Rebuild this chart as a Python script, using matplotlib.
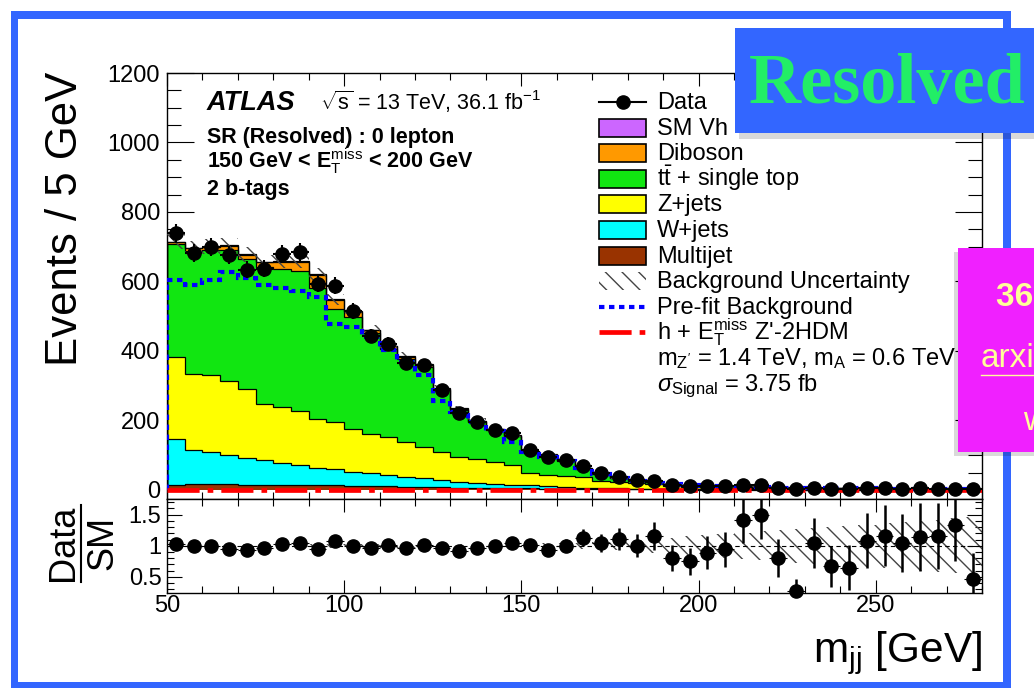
import numpy as np
import matplotlib
matplotlib.use('Agg')
import matplotlib.pyplot as plt
from matplotlib.patches import Rectangle
from matplotlib.ticker import MultipleLocator, FuncFormatter

plt.rcParams['font.family'] = ['Liberation Sans', 'DejaVu Sans']
plt.rcParams['mathtext.fontset'] = 'custom'
plt.rcParams['mathtext.rm'] = 'Liberation Sans'
plt.rcParams['mathtext.it'] = 'Liberation Sans:italic'
plt.rcParams['mathtext.bf'] = 'Liberation Sans:bold'
plt.rcParams['hatch.linewidth'] = 1.0

# m_jj bins, 5 GeV wide from 50 to 280 GeV
bin_lo, bin_width, n_bins = 50, 5, 46

data_counts = [739, 682, 699, 675, 634, 637, 680, 685, 593, 588,
               514, 443, 421, 366, 359, 289, 221, 197, 173, 163,
               115, 96, 86, 70, 50, 38, 28, 25, 14, 11,
               12, 10, 14, 13, 6, 2, 7, 4, 4, 5,
               5, 4, 5, 4, 4, 2]

multijet = [15, 16, 17, 16, 15, 15, 14, 14, 13, 15, 12, 11, 10, 9, 8, 8, 7, 6, 6, 5,
            5, 4, 4, 3, 3, 2, 2, 2, 1, 1, 0.8, 0.8, 0.7, 0.7, 0.6, 0.6, 0.5, 0.5, 0.5, 0.5,
            0.4, 0.4, 0.4, 0.4, 0.3, 0.3]
wjets = [132, 99, 93, 84, 77, 71, 64, 58, 51, 45, 41, 37, 32, 29, 25, 20, 17, 14, 12, 9,
         9, 6, 4, 4, 3, 3, 2, 1.5, 1.5, 1.2, 1.1, 1, 0.9, 0.9, 0.8, 0.8, 0.7, 0.7, 0.6, 0.6,
         0.6, 0.5, 0.5, 0.5, 0.5, 0.4]
zjets = [236, 220, 220, 215, 199, 162, 160, 156, 140, 135, 122, 113, 109, 99, 92, 82, 71, 68, 62, 58,
         34, 34, 32, 29, 19, 17, 15, 13, 8, 7, 6, 5, 4.6, 4.2, 3.8, 3.4, 3.2, 3, 2.7, 2.5,
         2.2, 2.1, 2, 1.8, 1.7, 1.6]
ttbar = [326, 354, 360, 376, 374, 394, 399, 401, 377, 327, 323, 290, 256, 241, 230, 179, 135, 108, 93, 82,
         62, 56, 44, 25, 22, 12, 8, 5, 6.5, 5, 4.4, 3.6, 3.3, 2.7, 2.4, 1.8, 1.7, 1.5, 1.4, 1.1,
         1.0, 0.9, 0.8, 0.7, 0.6, 0.6]
diboson = [5, 6, 10, 12, 12, 14, 20, 28, 38, 25, 14, 8, 6, 5, 4, 3, 3, 2, 2, 2,
           2, 1.5, 1.5, 1.5, 1, 1, 1, 1, 1, 0.8, 0.7, 0.6, 0.5, 0.5, 0.4, 0.4, 0.4, 0.3, 0.3, 0.3,
           0.3, 0.3, 0.3, 0.3, 0.3, 0.3]
sm_vh = [0.5, 0.5, 0.5, 0.6, 0.7, 0.8, 1, 1.2, 1.4, 1.6, 1.8, 2.0, 2.3, 2.5, 2.6, 2.5, 2.2, 1.8, 1.4, 1.1,
         0.9, 0.7, 0.6, 0.5, 0.4, 0.3, 0.3, 0.2, 0.1, 0.1, 0.1, 0.1, 0.1, 0.1, 0.1, 0.1, 0.1, 0.1, 0.1, 0.1,
         0.1, 0.1, 0.1, 0.1, 0.1, 0.1]
prefit_bkg = [604, 590, 604, 628, 609, 590, 580, 573, 556, 479, 469, 441, 402, 368, 330, 257, 225, 195, 171, 137,
              108, 95, 84, 64, 45, 34, 26, 21, 16, 14, 12, 10, 9, 8, 7, 6.5, 6, 5.5, 5, 4.6,
              4.2, 4, 3.7, 3.4, 3.2, 3]
signal = [0.4, 0.4, 0.4, 0.5, 0.5, 0.5, 0.6, 0.6, 0.7, 0.7, 0.8, 0.8, 0.9, 0.9, 0.9, 0.9, 0.8, 0.8, 0.7, 0.7,
          0.6, 0.6, 0.5, 0.5, 0.4, 0.4, 0.4, 0.3, 0.3, 0.3, 0.3, 0.3, 0.2, 0.2, 0.2, 0.2, 0.2, 0.2, 0.2, 0.2,
          0.1, 0.1, 0.1, 0.1, 0.1, 0.1]
ratio = [1.03, 0.99, 0.99, 0.95, 0.93, 0.97, 1.03, 1.04, 0.95, 1.07,
         0.99, 0.97, 1.01, 0.96, 1.01, 0.97, 0.92, 0.97, 0.99, 1.04,
         1.02, 0.93, 1.0, 1.13, 1.04, 1.11, 1.0, 1.16, 0.80, 0.75,
         0.89, 0.94, 1.41, 1.50, 0.80, 0.27, 1.05, 0.67, 0.65, 1.08,
         1.16, 1.04, 1.14, 1.16, 1.33, 0.46]
bkg_rel_unc = [0.03, 0.03, 0.03, 0.03, 0.03, 0.03, 0.03, 0.03, 0.03, 0.03,
               0.03, 0.03, 0.03, 0.03, 0.03, 0.03, 0.03, 0.03, 0.03, 0.03,
               0.035, 0.04, 0.045, 0.05, 0.06, 0.07, 0.09, 0.11, 0.13, 0.15,
               0.17, 0.19, 0.21, 0.23, 0.25, 0.27, 0.29, 0.30, 0.32, 0.34,
               0.36, 0.38, 0.40, 0.42, 0.44, 0.46]

edges = bin_lo + bin_width * np.arange(n_bins + 1)
centers = 0.5 * (edges[:-1] + edges[1:])

stack = [('Multijet', multijet, '#993300'),
         ('W+jets', wjets, '#00ffff'),
         ('Z+jets', zjets, '#ffff00'),
         (r'$\mathrm{t\bar{t}}$ + single top', ttbar, '#11e611'),
         ('Diboson', diboson, '#ff9900'),
         ('SM Vh', sm_vh, '#cc66ff')]

W, H = 1034, 688
fig = plt.figure(figsize=(W / 100, H / 100), dpi=100)
fig.patch.set_facecolor('white')


def px_rect(x0, y0, x1, y1):
    return [x0 / W, 1 - y1 / H, (x1 - x0) / W, (y1 - y0) / H]


ax = fig.add_axes(px_rect(167, 73, 982, 499))
rax = fig.add_axes(px_rect(167, 499, 982, 592.5))

# ---- main panel: stacked backgrounds
base = np.zeros(n_bins)
for name, vals, col in stack:
    top = base + np.array(vals)
    ax.stairs(top, edges, baseline=base, fill=True, color=col, lw=0, zorder=2)
    ax.stairs(top, edges, color='k', lw=0.9, zorder=3)
    base = top
total = base
unc = np.array(bkg_rel_unc)
data = np.array(data_counts, dtype=float)

ax.bar(centers, 2 * unc * total, bottom=total * (1 - unc), width=bin_width, fill=False,
       hatch='\\\\', edgecolor='#444444', lw=0, zorder=4)
ax.stairs(prefit_bkg, edges, color='#0000ff', lw=3, linestyle=(0, (1.3, 1.1)), zorder=5)
ax.stairs(signal, edges, color='#ff0000', lw=3.4, linestyle=(0, (6.8, 1.7, 1.2, 1.7)), zorder=5)
ax.errorbar(centers, data, yerr=np.sqrt(data), xerr=bin_width / 2, fmt='o', color='k',
            ms=9.5, elinewidth=1.5, capsize=0, zorder=6)

ax.set_xlim(50, 280)
ax.set_ylim(-26, 1200)
ax.xaxis.set_major_locator(MultipleLocator(50))
ax.xaxis.set_minor_locator(MultipleLocator(10))
ax.yaxis.set_major_locator(MultipleLocator(200))
ax.yaxis.set_minor_locator(MultipleLocator(50))
ax.tick_params(which='both', direction='in', top=True, right=True, labelbottom=False, width=0.8)
ax.tick_params(axis='y', which='major', length=19.5, labelsize=17, pad=5)
ax.tick_params(axis='y', which='minor', length=10)
ax.tick_params(axis='x', which='major', length=9)
ax.tick_params(axis='x', which='minor', length=4.7)

# ---- ratio panel
rax.bar(centers, 2 * unc, bottom=1 - unc, width=bin_width, fill=False,
        hatch='\\\\', edgecolor='#444444', lw=0, zorder=2)
rax.axhline(1, color='k', lw=0.8, ls=(0, (4, 3)), zorder=3)
ratio_err = np.sqrt(data) / total
rax.errorbar(centers, ratio, yerr=ratio_err, fmt='none', ecolor='k', elinewidth=1.8, zorder=4)
rax.errorbar(centers, ratio, xerr=bin_width / 2, fmt='none', ecolor='k', elinewidth=0.8, zorder=4)
rax.plot(centers, ratio, 'o', color='k', ms=9.5, clip_on=False, zorder=5)

rax.set_xlim(50, 280)
rax.set_ylim(0.25, 1.75)
rax.xaxis.set_major_locator(MultipleLocator(50))
rax.xaxis.set_minor_locator(MultipleLocator(10))
rax.yaxis.set_major_locator(MultipleLocator(0.5))
rax.yaxis.set_minor_locator(MultipleLocator(0.1))
rax.yaxis.set_major_formatter(FuncFormatter(lambda v, p: '%g' % v))
rax.tick_params(which='both', direction='in', top=True, right=True, width=0.8)
rax.tick_params(axis='y', which='major', length=10.8, labelsize=17, pad=4)
rax.tick_params(axis='y', which='minor', length=5)
rax.tick_params(axis='x', which='major', length=9.4, labelsize=17, pad=2)
rax.tick_params(axis='x', which='minor', length=5)

for a in (ax, rax):
    for s in a.spines.values():
        s.set_linewidth(1.0)

# ---- overlay in pixel coordinates for labels, legend and slide decoration
ov = fig.add_axes([0, 0, 1, 1], zorder=10)
ov.set_xlim(0, W)
ov.set_ylim(H, 0)
ov.axis('off')

ov.text(66, 72, 'Events / 5 GeV', rotation=90, ha='center', va='top', fontsize=31.5)
ov.text(64, 543, 'Data', rotation=90, ha='center', va='center', fontsize=26)
ov.text(103, 543, 'SM', rotation=90, ha='center', va='center', fontsize=26)
ov.plot([81, 81], [505, 582], color='k', lw=1.5)
ov.text(982, 662, r'm$_{\rm jj}$ [GeV]', ha='right', va='baseline', fontsize=30.5)

ov.text(206.7, 110, 'ATLAS', fontsize=19.5, fontweight='bold', fontstyle='italic', va='baseline')
ov.text(320, 110, r'$\sqrt{\rm s}$ = 13 TeV, 36.1 fb$^{-1}$', fontsize=15.5, va='baseline')
ov.text(206.7, 143.3, 'SR (Resolved) : 0 lepton', fontsize=15.5, fontweight='bold', va='baseline')
ov.text(206.7, 168.3, r'150 GeV < $\mathbf{E}_{\rm T}^{\rm miss}$ < 200 GeV', fontsize=15.5,
        fontweight='bold', va='baseline')
ov.text(206.7, 195, '2 b-tags', fontsize=15.5, fontweight='bold', va='baseline')

# legend
leg_labels = ['Data', 'SM Vh', 'Diboson', r'$\mathrm{t\bar{t}}$ + single top', 'Z+jets', 'W+jets',
              'Multijet', 'Background Uncertainty', 'Pre-fit Background',
              r"h + $\mathrm{E}_{\rm T}^{\rm miss}$ Z'-2HDM",
              r"$\mathrm{m}_{\rm Z'}$ = 1.4 TeV, $\mathrm{m}_{\rm A}$ = 0.6 TeV",
              r'$\sigma_{\rm Signal}$ = 3.75 fb']
box_colors = {name: col for name, vals, col in stack}
hx0, hx1, tx = 599, 646, 657
for i, lab in enumerate(leg_labels):
    yb = 109 + 25.6 * i
    yc = yb - 7
    if i == 0:
        ov.plot([hx0, hx1], [yc, yc], color='k', lw=1.5)
        ov.plot([(hx0 + hx1) / 2], [yc], 'o', color='k', ms=9.5)
    elif lab in box_colors:
        ov.add_patch(Rectangle((hx0, yc - 9), hx1 - hx0, 18, facecolor=box_colors[lab],
                               edgecolor='k', lw=1.2))
    elif i == 7:
        ov.add_patch(Rectangle((hx0, yc - 9), hx1 - hx0, 18, fill=False, hatch='\\\\',
                               edgecolor='#444444', lw=0))
    elif i == 8:
        ov.plot([hx0, hx1], [yc, yc], color='#0000ff', lw=3, ls=(0, (1.3, 1.1)))
    elif i == 9:
        ov.plot([hx0, hx1], [yc, yc], color='#ff0000', lw=3.4, ls=(0, (6.8, 1.7, 1.2, 1.7)))
    ov.text(tx, yb, lab, fontsize=17, va='baseline')

# slide frame
blue = '#3366ff'
ov.add_patch(Rectangle((11, 11), 1000, 8, color=blue, lw=0))
ov.add_patch(Rectangle((11, 11), 7, 677, color=blue, lw=0))
ov.add_patch(Rectangle((1003, 11), 8, 677, color=blue, lw=0))
ov.add_patch(Rectangle((11, 682), 1000, 6, color=blue, lw=0))

# "Resolved" tag
ov.add_patch(Rectangle((739, 33), 300, 106, color='k', alpha=0.15, lw=0))
ov.add_patch(Rectangle((735, 28), 300, 105, color=blue, lw=0))
ov.text(749, 103.5, 'Resolved', family='Liberation Serif', fontweight='bold', fontsize=52,
        color='#22ee66', va='baseline')

# pink note box
ov.add_patch(Rectangle((954, 252), 90, 204, color='k', alpha=0.15, lw=0))
ov.add_patch(Rectangle((958, 248), 80, 204, color='#f020ff', lw=0))
ov.text(996, 306.5, '36.1 fb-1', fontsize=24, fontweight='bold', color='#ffff99', va='baseline')
ov.text(981, 366.5, 'arxiv.org', fontsize=24, color='#ffff99', va='baseline')
ov.plot([981, 1034], [375, 375], color='#ffff99', lw=1)
ov.text(1023, 430, 'with', fontsize=24, color='#ffff99', va='baseline')

fig.savefig('out.png', dpi=100)
